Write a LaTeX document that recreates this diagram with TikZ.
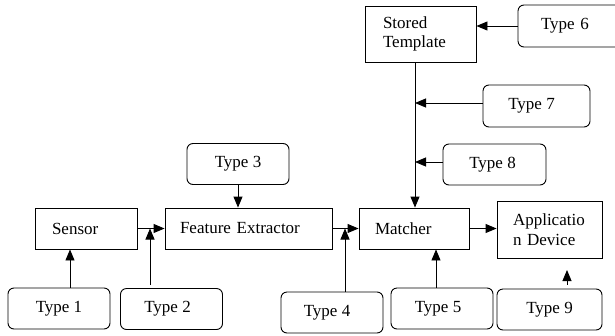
\documentclass[tikz,border=0pt]{standalone}
\usepackage{fontspec}
\setmainfont{Liberation Serif}
\usetikzlibrary{arrows.meta}
\begin{document}
\begin{tikzpicture}[x=1pt,y=-1pt,
  font=\fontsize{17}{19.5}\selectfont,
  stage/.style 2 args={draw, line width=0.9pt, inner ysep=0pt, inner xsep=#1,
    text width=#2, align=left},
  source/.style={draw, line width=0.9pt, rounded corners=6pt, inner sep=0pt,
    minimum width=102, minimum height=41},
  arr/.style={-{Triangle[length=11pt,width=9pt]}, line width=0.9pt}]
\useasboundingbox (0,0) rectangle (615,335);
\clip (0,0) rectangle (615,335);

% processing stages
\node[stage={17pt}{68pt}, minimum height=41] (sensor) at (86,228.5) {Sensor};
\node[stage={15pt}{137pt}, minimum height=41] (fe) at (248.5,228.5) {Feature Extractor};
\node[stage={16pt}{78pt}, minimum height=41] (matcher) at (414,228.5) {Matcher};
\node[stage={16pt}{73pt}, minimum height=57] (app) at (549.5,229.5) {Applicatio\\n Device};
\node[stage={18pt}{75pt}, minimum height=56] (stored) at (420.5,34) {Stored\\Template};

% attack points
\node[source] (t1) at (59,308.5) {Type 1};
\node[source] (t2) at (171.5,309) {\raisebox{3pt}{Type 2}\hspace*{8pt}};
\node[source] (t3) at (238,164) {Type 3};
\node[source] (t4) at (332,312.5) {Type 4\hspace*{10pt}};
\node[source] (t5) at (442,308.5) {\raisebox{2pt}{Type 5}\hspace*{8pt}};
\node[source, minimum width=0pt, inner xsep=23pt, text width=61pt, align=left,
  minimum height=42] (t6) at (571.5,26) {Type 6};
\node[source, minimum width=107, minimum height=42] (t7) at (536.5,106) {\raisebox{3pt}{Type 7}\hspace*{10pt}};
\node[source, minimum width=103] (t8) at (494.5,164.5) {\raisebox{2pt}{Type 8}\hspace*{4pt}};
\node[source, minimum width=105] (t9) at (549.5,309.5) {\raisebox{3pt}{Type 9}};

% junctions on the template channel
\coordinate (j7) at (415,103);
\coordinate (j8) at (415,162);
\coordinate (t9tip) at (567,270);

% main flow
\draw[arr] (sensor.east) -- (fe.west);
\draw[arr] (fe.east) -- (matcher.west);
\draw[arr] (matcher.east) -- (matcher.east -| app.west);
\draw[arr] (stored.south -| j7) -- (j7 |- matcher.north);

% attack arrows
\draw[arr] ([xshift=11pt]t1.north) -- ([xshift=11pt]t1.north |- sensor.south);
\draw[arr] ([xshift=-21.5pt,yshift=3pt]t2.north) -- ([xshift=-21.5pt]t2.north |- fe.west);
\draw[arr] (t3.south) -- (t3.south |- fe.north);
\draw[arr] ([xshift=13pt]t4.north) -- ([xshift=13pt]t4.north |- fe.east);
\draw[arr] ([xshift=-6pt]t5.north) -- ([xshift=-6pt]t5.north |- matcher.south);
\draw[arr] (t6.west) -- (t6.west -| stored.east);
\draw[arr] (t7.west |- j7) -- (j7);
\draw[arr] (t8.west |- j8) -- (j8);
\draw[arr] ([xshift=17.5pt,yshift=4pt]t9.north) -- (t9tip);
\end{tikzpicture}
\end{document}
